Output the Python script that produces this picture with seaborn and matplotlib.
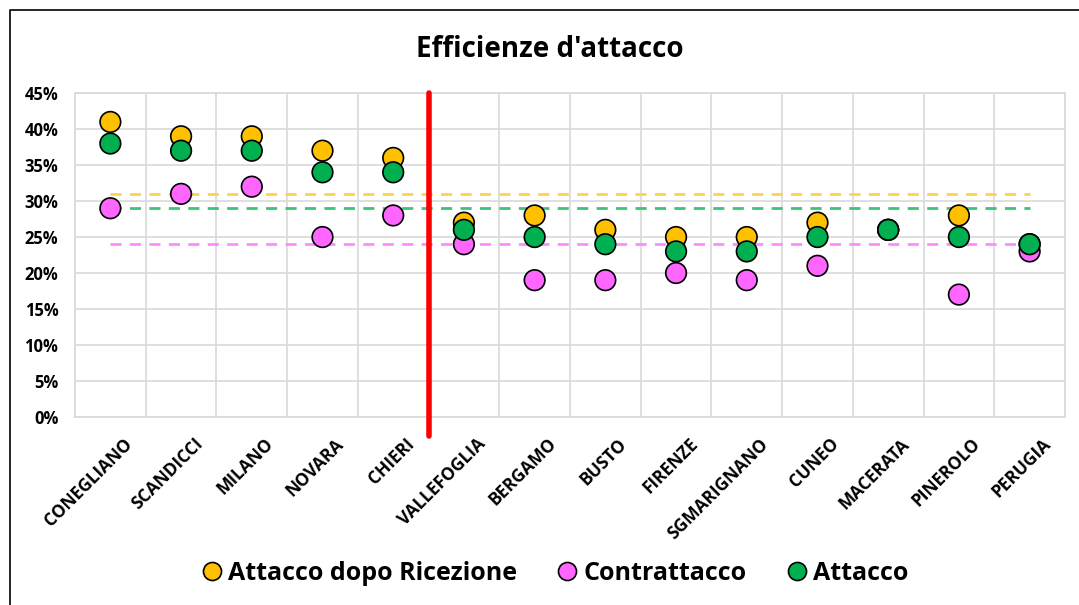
import numpy as np
import pandas as pd
import matplotlib
matplotlib.use("Agg")
import matplotlib.pyplot as plt
import seaborn as sns
from matplotlib.lines import Line2D
from matplotlib.transforms import ScaledTranslation

# dati
squadre = ["CONEGLIANO", "SCANDICCI", "MILANO", "NOVARA", "CHIERI", "VALLEFOGLIA",
           "BERGAMO", "BUSTO", "FIRENZE", "SGMARIGNANO", "CUNEO", "MACERATA",
           "PINEROLO", "PERUGIA"]
attacco_ricezione = [0.41, 0.39, 0.39, 0.37, 0.36, 0.27, 0.28, 0.26, 0.25, 0.25, 0.27, 0.26, 0.28, 0.24]
contrattacco = [0.29, 0.31, 0.32, 0.25, 0.28, 0.24, 0.19, 0.19, 0.20, 0.19, 0.21, 0.26, 0.17, 0.23]
attacco = [0.38, 0.37, 0.37, 0.34, 0.34, 0.26, 0.25, 0.24, 0.23, 0.23, 0.25, 0.26, 0.25, 0.24]
serie = ["Attacco dopo Ricezione", "Contrattacco", "Attacco"]
medie = [0.31, 0.24, 0.29]

colori = ["#FFC000", "#FF66FF", "#00B050"]
colori_medie = ["#FFD24D", "#FF8CFF", "#3CC47A"]

df = pd.DataFrame({
    "squadra": squadre * 3,
    "valore": attacco_ricezione + contrattacco + attacco,
    "serie": [s for s in serie for _ in squadre],
})

sns.set_theme(style="white")
plt.rcParams["font.family"] = ["Open Sans", "DejaVu Sans"]
plt.rcParams["text.color"] = "black"
plt.rcParams["xtick.color"] = "black"
plt.rcParams["ytick.color"] = "black"

fig = plt.figure(figsize=(10.79, 6.05), dpi=100)
ax = fig.add_axes([0.0695, 0.311, 0.9175, 0.535])

# linee medie tratteggiate
for m, c in zip(medie, colori_medie):
    ax.hlines(m, 0, len(squadre) - 1, colors=c, linestyles=(0, (4, 3)), lw=2, zorder=2)

sns.scatterplot(data=df, x="squadra", y="valore", hue="serie", hue_order=serie,
                palette=colori, s=220, edgecolor="black", linewidth=1.2,
                ax=ax, legend=False, zorder=3)

# separatore rosso
ax.axvline(4.5, ymin=-0.06, ymax=1, color="#FF0000", lw=4, clip_on=False, zorder=4)

ax.set_xlim(-0.5, len(squadre) - 0.5)
ax.set_ylim(0, 0.45)
ax.set_yticks(np.arange(0, 0.46, 0.05))
ax.set_yticklabels([f"{int(round(v * 100))}%" for v in np.arange(0, 0.46, 0.05)],
                   fontsize=12, fontweight="bold")
ax.set_xticks(range(len(squadre)))
ax.set_xticklabels(squadre, rotation=45, ha="right", rotation_mode="anchor",
                   fontsize=12.5, fontweight="bold")
ax.set_xticks(np.arange(-0.5, len(squadre), 1), minor=True)
ax.tick_params(axis="both", which="both", length=0)
ax.tick_params(axis="x", pad=13)
ax.tick_params(axis="y", pad=12)
ax.grid(axis="y", which="major", color="#D9D9D9", lw=1.2)
ax.grid(axis="x", which="minor", color="#D9D9D9", lw=1.2)
ax.grid(axis="x", which="major", visible=False)
for sp in ax.spines.values():
    sp.set_color("#D9D9D9")
    sp.set_linewidth(1.2)
ax.set_xlabel("")
ax.set_ylabel("")
# sposta le etichette un po' a destra come in Excel
off = ScaledTranslation(9 / 72, 0, fig.dpi_scale_trans)
for lab in ax.get_xticklabels():
    lab.set_transform(lab.get_transform() + off)

fig.text(0.51, 0.918, "Efficienze d'attacco", ha="center", va="center",
         fontsize=20, fontweight="bold")

handles = [Line2D([], [], marker="o", ls="", markersize=13, markerfacecolor=c,
                  markeredgecolor="black", markeredgewidth=1.2) for c in colori]
fig.legend(handles, serie, loc="center", bbox_to_anchor=(0.514, 0.052), ncol=3,
           frameon=False, prop={"size": 18, "weight": "bold"},
           handlelength=0.9, handletextpad=0.2, columnspacing=1.55)

# cornice del grafico (solo lati sinistro e superiore visibili)
bx, by = 10 / 1079, 1 - 10 / 605
fig.add_artist(Line2D([bx, bx, 1.0], [0.0, by, by], transform=fig.transFigure,
                      color="black", lw=1.2))

fig.savefig("out.png", dpi=100)
